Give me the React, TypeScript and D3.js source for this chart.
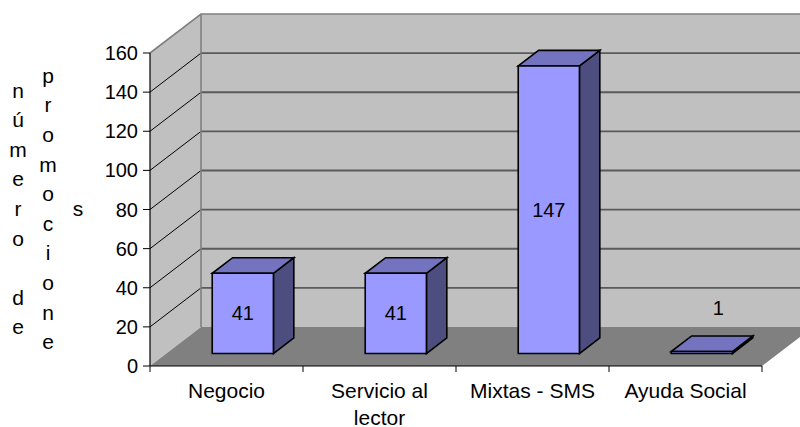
import React, { useEffect, useRef } from "react";
import * as d3 from "d3";

// ---- data ----
const categories = ["Negocio", "Servicio al lector", "Mixtas - SMS", "Ayuda Social"];
const values = [41, 41, 147, 1];
const yTicks = [0, 20, 40, 60, 80, 100, 120, 140, 160];
const axisTitle = "número de promociones";

// ---- layout ----
const W = 800;
const H = 427;
const LEFT = 150;
const RIGHT = 762;
const TOP = 53;
const BOTTOM = 366;
const DX = 51; // depth offset x
const DY = 39; // depth offset y (upwards)
const D0 = 0.32;
const D1 = 0.72;
const FONT = "'Liberation Sans', Arial, sans-serif";

export default function App() {
  const ref = useRef<SVGSVGElement>(null);

  useEffect(() => {
    const svg = d3.select(ref.current);
    svg.selectAll("*").remove();

    const x = d3.scaleBand<string>().domain(categories).range([LEFT, RIGHT]).padding(0);
    const y = d3.scaleLinear().domain([0, 160]).range([BOTTOM, TOP]);
    const bw = x.bandwidth();

    const pts = (a: [number, number][]) => a.map((p) => p.join(",")).join(" ");

    // back wall
    svg.append("polygon")
      .attr("points", pts([[LEFT + DX, y(160) - DY], [RIGHT + DX, y(160) - DY], [RIGHT + DX, y(0) - DY], [LEFT + DX, y(0) - DY]]))
      .attr("fill", "#c0c0c0");
    // left wall
    svg.append("polygon")
      .attr("points", pts([[LEFT, y(160)], [LEFT + DX, y(160) - DY], [LEFT + DX, y(0) - DY], [LEFT, y(0)]]))
      .attr("fill", "#c0c0c0");

    // gridlines on back wall
    svg.append("g").selectAll("line").data(yTicks.filter((t) => t > 0 && t < 160)).join("line")
      .attr("x1", LEFT + DX).attr("x2", RIGHT + DX)
      .attr("y1", (d) => y(d) - DY).attr("y2", (d) => y(d) - DY)
      .attr("stroke", "#5a5a5a").attr("stroke-width", 1.8);
    // gridlines on left wall
    svg.append("g").selectAll("line").data(yTicks.filter((t) => t > 0 && t < 160)).join("line")
      .attr("x1", LEFT).attr("x2", LEFT + DX)
      .attr("y1", (d) => y(d)).attr("y2", (d) => y(d) - DY)
      .attr("stroke", "#000").attr("stroke-width", 1);

    // wall borders
    svg.append("polyline")
      .attr("points", pts([[LEFT, y(160)], [LEFT + DX, y(160) - DY], [RIGHT + DX, y(160) - DY]]))
      .attr("fill", "none").attr("stroke", "#808080").attr("stroke-width", 1.6);
    svg.append("line")
      .attr("x1", LEFT + DX).attr("x2", LEFT + DX)
      .attr("y1", y(160) - DY).attr("y2", y(0) - DY)
      .attr("stroke", "#808080").attr("stroke-width", 1.6);

    // floor
    svg.append("polygon")
      .attr("points", pts([[LEFT, y(0)], [RIGHT, y(0)], [RIGHT + DX, y(0) - DY], [LEFT + DX, y(0) - DY]]))
      .attr("fill", "#808080");

    // axes
    svg.append("line").attr("x1", LEFT).attr("x2", LEFT).attr("y1", y(160)).attr("y2", y(0))
      .attr("stroke", "#000").attr("stroke-width", 1.2);
    svg.append("line").attr("x1", LEFT).attr("x2", RIGHT).attr("y1", y(0)).attr("y2", y(0))
      .attr("stroke", "#000").attr("stroke-width", 1.2);

    // y ticks + labels
    const yg = svg.append("g");
    yg.selectAll("line").data(yTicks).join("line")
      .attr("x1", LEFT - 7).attr("x2", LEFT).attr("y1", (d) => y(d)).attr("y2", (d) => y(d))
      .attr("stroke", "#000").attr("stroke-width", 1);
    yg.selectAll("text").data(yTicks).join("text")
      .attr("x", LEFT - 12).attr("y", (d) => y(d)).attr("dy", "0.35em")
      .attr("text-anchor", "end").attr("font-family", FONT).attr("font-size", 20)
      .text((d) => String(d));

    // x ticks
    const xEdges = [...categories.map((c) => x(c)!), RIGHT];
    svg.append("g").selectAll("line").data(xEdges).join("line")
      .attr("x1", (d) => d).attr("x2", (d) => d).attr("y1", y(0)).attr("y2", y(0) + 6)
      .attr("stroke", "#000").attr("stroke-width", 1);

    // x labels with wrapping
    const xl = svg.append("g");
    categories.forEach((c) => {
      const t = xl.append("text")
        .attr("x", x(c)! + bw / 2).attr("y", 398)
        .attr("text-anchor", "middle").attr("font-family", FONT).attr("font-size", 21);
      const words = c.split(" ");
      let line: string[] = [];
      let tspan = t.append("tspan").attr("x", x(c)! + bw / 2).attr("dy", 0);
      words.forEach((w) => {
        line.push(w);
        tspan.text(line.join(" "));
        if ((tspan.node() as SVGTSpanElement).getComputedTextLength() > bw - 4 && line.length > 1) {
          line.pop();
          tspan.text(line.join(" "));
          line = [w];
          tspan = t.append("tspan").attr("x", x(c)! + bw / 2).attr("dy", 26.5).text(w);
        }
      });
    });

    // bars
    const bars = svg.append("g");
    categories.forEach((c, i) => {
      const v = values[i];
      const xl0 = x(c)! + bw * 0.3;
      const xr0 = xl0 + bw * 0.4;
      const ox0 = D0 * DX, oy0 = -D0 * DY, ox1 = D1 * DX, oy1 = -D1 * DY;
      const yt = y(v), yb = y(0);
      const g = bars.append("g").attr("stroke", "#000").attr("stroke-width", 1.6).attr("stroke-linejoin", "miter");
      g.append("polygon").attr("fill", "#4d4d80")
        .attr("points", pts([[xr0 + ox0, yt + oy0], [xr0 + ox1, yt + oy1], [xr0 + ox1, yb + oy1], [xr0 + ox0, yb + oy0]]));
      g.append("polygon").attr("fill", "#7373bf")
        .attr("points", pts([[xl0 + ox0, yt + oy0], [xr0 + ox0, yt + oy0], [xr0 + ox1, yt + oy1], [xl0 + ox1, yt + oy1]]));
      g.append("polygon").attr("fill", "#9999ff")
        .attr("points", pts([[xl0 + ox0, yt + oy0], [xr0 + ox0, yt + oy0], [xr0 + ox0, yb + oy0], [xl0 + ox0, yb + oy0]]));

      const faceH = yb - yt;
      const lab = bars.append("text").attr("font-family", FONT).attr("font-size", 20)
        .attr("text-anchor", "middle").text(String(v));
      if (faceH > 30) {
        lab.attr("x", (xl0 + xr0) / 2 + ox0).attr("y", (yt + yb) / 2 + oy0).attr("dy", "0.35em");
      } else {
        lab.attr("x", (xl0 + xr0) / 2 + ox1 - 4).attr("y", yt + oy1 - 21);
      }
    });

    // axis title (stacked characters in columns of 10)
    const chars = Array.from(axisTitle);
    const cols: string[] = [];
    for (let i = 0; i < chars.length; i += 10) cols.push(chars.slice(i, i + 10).join("").trimEnd());
    const step = 29.6;
    const midY = 216;
    const tg = svg.append("g").attr("font-family", FONT).attr("font-size", 21).attr("text-anchor", "middle");
    cols.forEach((col, ci) => {
      const cs = Array.from(col);
      cs.forEach((ch, ri) => {
        if (ch === " ") return;
        tg.append("text")
          .attr("x", 18 + ci * 30)
          .attr("y", midY - ((cs.length - 1) / 2) * step + ri * step)
          .text(ch);
      });
    });
  }, []);

  return (
    <svg
      ref={ref}
      width={W}
      height={H}
      style={{ position: "absolute", left: 0, top: 0, background: "#fff" }}
    />
  );
}
